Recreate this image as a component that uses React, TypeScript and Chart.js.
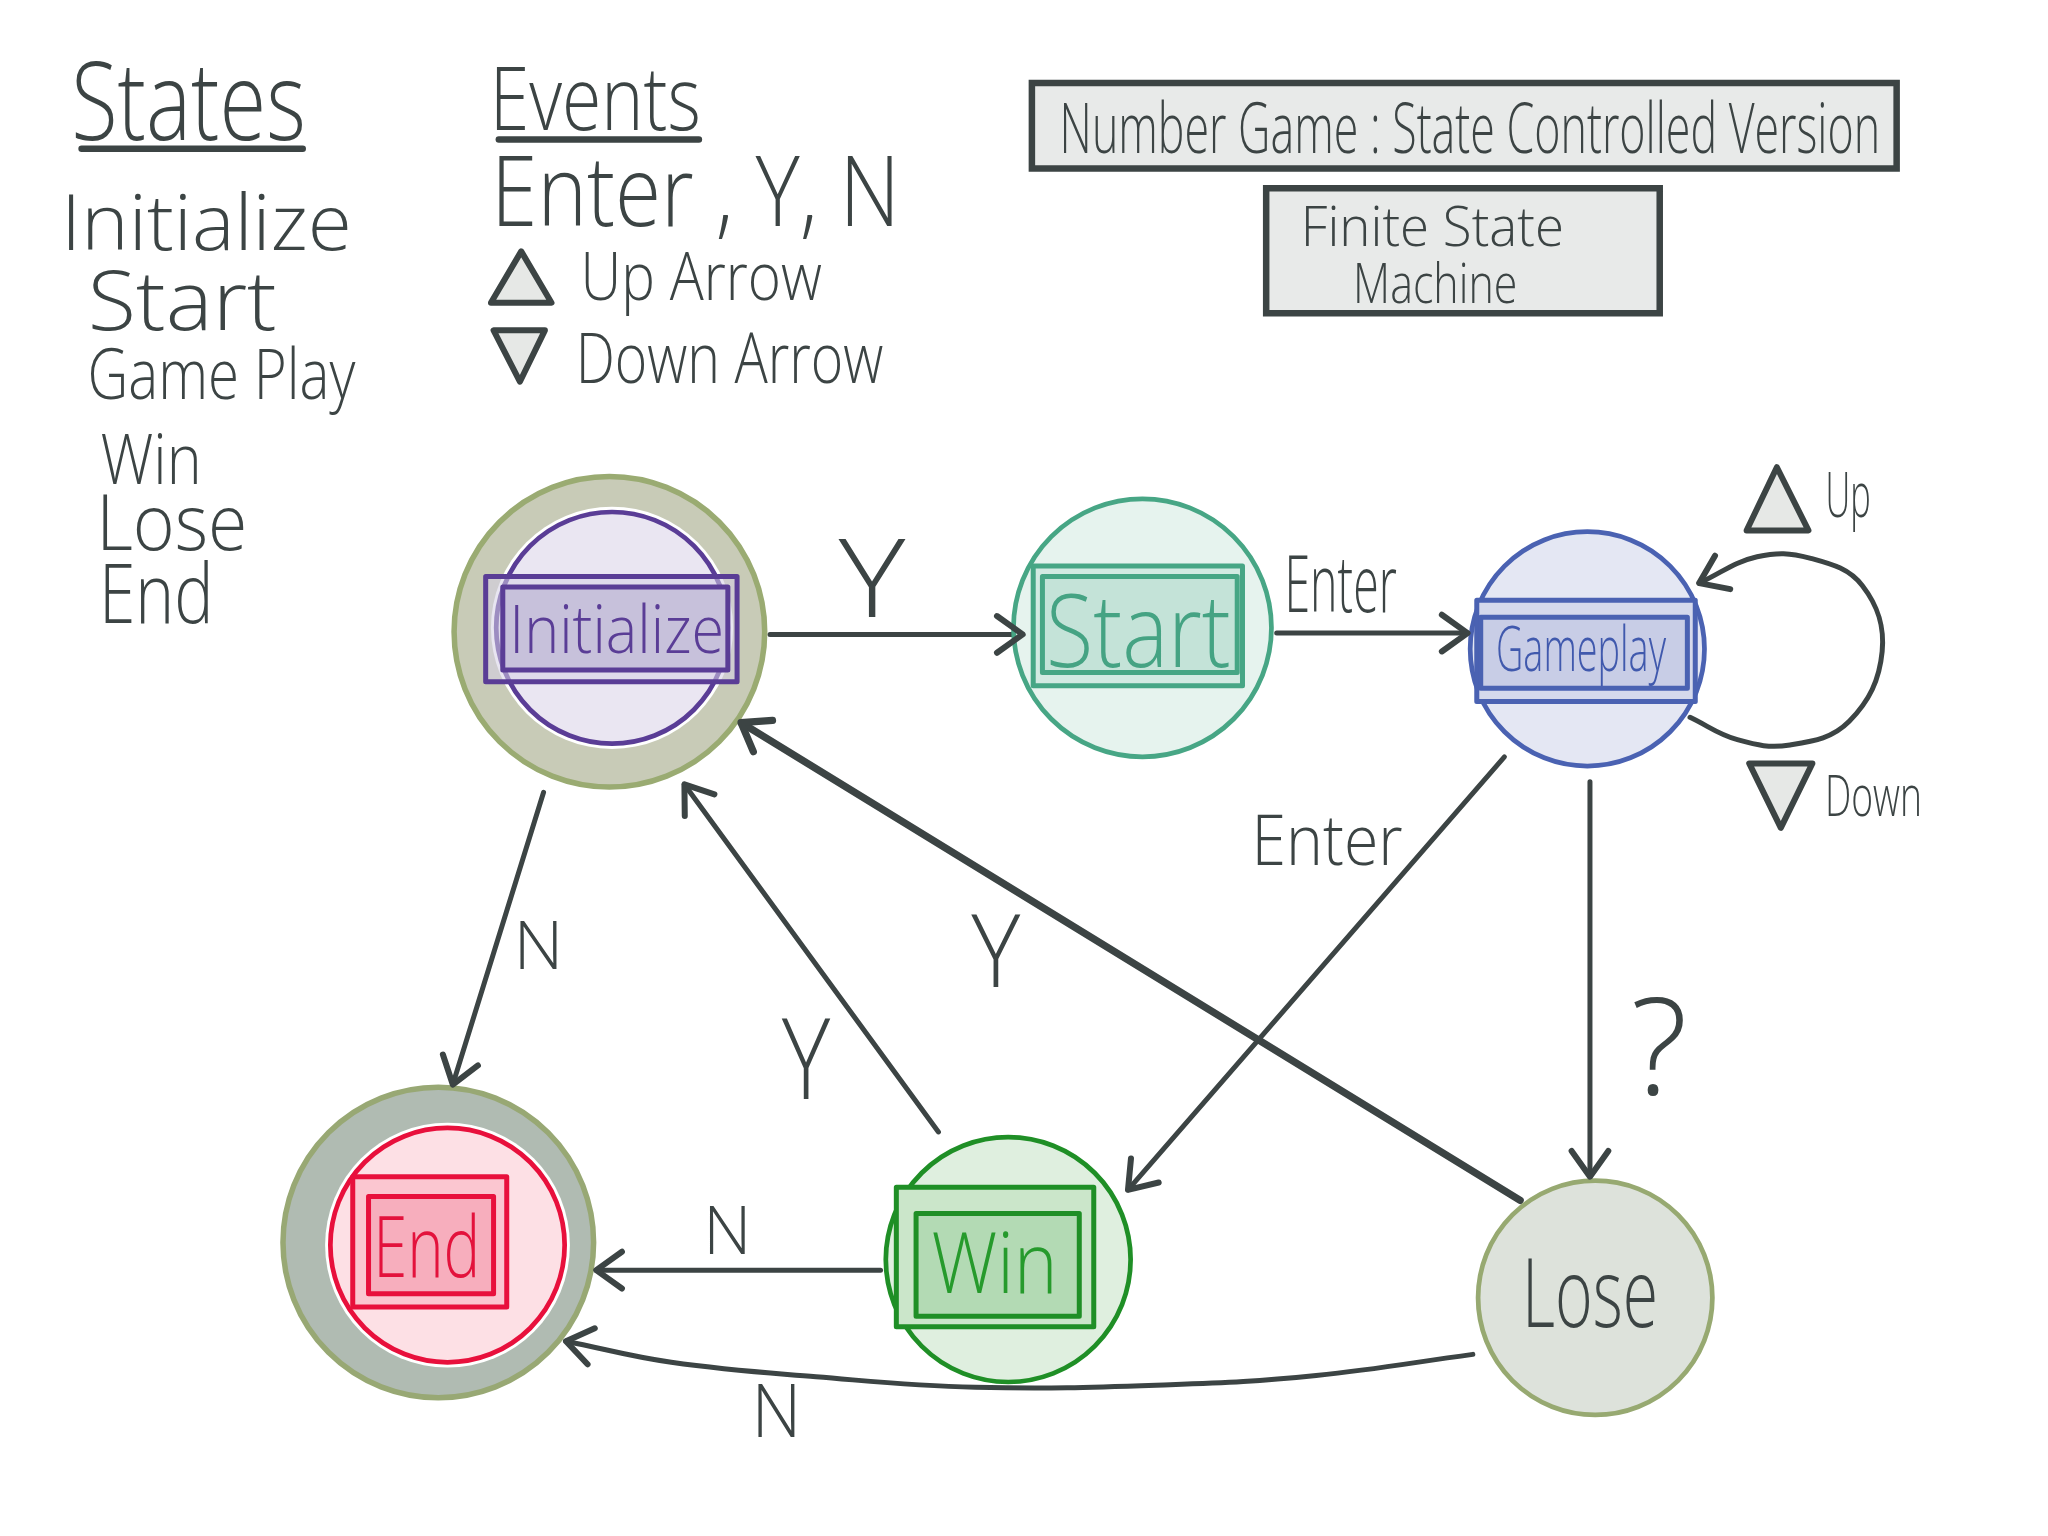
import React, { useEffect, useRef } from 'react';
import Chart from 'chart.js/auto';

// ---- diagram coordinate space (units) ----
const SPACE_W = 1556;
const SPACE_H = 1167;

// ---- states (nodes) ----
const stateNames = ['Initialize', 'Start', 'Gameplay', 'Win', 'Lose', 'End'];
const stateX = [465, 868, 1206, 766, 1212, 340];
const stateY = [477, 477, 493, 957, 986, 946];
const stateR = [88, 98, 89, 93, 89, 89];

// double-ring states (initial / final)
const ringStates = ['Initialize', 'End'];
const ringX = [463, 333];
const ringY = [480, 944];
const ringR = [118, 118];

// ---- transitions ----
const edgeNames = ['Init→Start', 'Start→Gameplay', 'Gameplay→Win', 'Gameplay→Lose', 'Lose→Init', 'Win→Init', 'Init→End', 'Win→End', 'Lose→End', 'Gameplay→Gameplay'];
const edgePaths: number[][][] = [
  [[585, 482], [777, 482]],
  [[970, 481], [1115, 481]],
  [[1143, 575], [857, 904]],
  [[1208, 594], [1208, 894]],
  [[1155, 912], [563, 549]],
  [[713, 860], [520, 596]],
  [[413, 602], [344, 824]],
  [[669, 965], [453, 965]],
  [[1119, 1029], [1000, 1045], [889, 1052], [741, 1054], [620, 1046], [510, 1035], [430, 1019]],
  [[1284, 545], [1320, 562], [1360, 566], [1405, 548], [1430, 495], [1415, 445], [1375, 424], [1335, 423], [1291, 443]],
];
const edgeLabels = ['Y', 'Enter', 'Enter', '?', 'Y', 'Y', 'N', 'N', 'N', ''];

// ---- legend lists ----
const legendStates = ['Initialize', 'Start', 'Game Play', 'Win', 'Lose', 'End'];
const legendEvents = ['Enter , Y, N', 'Up Arrow', 'Down Arrow'];
const titleText = 'Number Game : State Controlled Version';
const subtitleLines = ['Finite State', 'Machine'];

// ---- styles / layout (not data) ----
const INK = '#3c4444';
const FONT = '"Open Sans", "Lato", "Noto Sans", sans-serif';
const FONT_WEIGHT = 300;
const TRI_FILL = '#e6e8e6';

const stateStyle: Record<string, any> = {
  Initialize: { fill: '#eae6f2', stroke: '#5a3d96', text: '#5a3d96', rectFill: '#c7c1db', rectOuterFill: 'rgba(214,207,230,0.55)' },
  Start: { fill: '#e6f3ee', stroke: '#47a685', text: '#45a383', rectFill: '#c4e3d8', rectOuterFill: '#d3eae2' },
  Gameplay: { fill: '#e4e7f3', stroke: '#4a62b2', text: '#4059ad', rectFill: '#c8cde6', rectOuterFill: '#d5d9ec' },
  Win: { fill: '#dfefdf', stroke: '#1f8f26', text: '#269a2c', rectFill: '#b3dab4', rectOuterFill: '#cbe6ca' },
  Lose: { fill: '#dde2db', stroke: '#97a971', text: INK },
  End: { fill: '#fde0e5', stroke: '#e8103c', text: '#e3123c', rectFill: '#f7aebd', rectOuterFill: '#fbc6d0' },
};
const ringStyle: Record<string, any> = {
  Initialize: { fill: '#c8cbb7', stroke: '#9aab72' },
  End: { fill: '#b0bbb2', stroke: '#98a874' },
};

// rectangles drawn inside state circles: [x1, y1, x2, y2]
const stateRects: Record<string, { outer: number[]; inner: number[] }> = {
  Initialize: { outer: [369, 438, 560, 518], inner: [382, 446, 553, 509] },
  Start: { outer: [785, 430, 944, 521], inner: [792, 438, 940, 511] },
  Gameplay: { outer: [1122, 456, 1288, 533], inner: [1125, 469, 1282, 523] },
  Win: { outer: [681, 902, 831, 1008], inner: [696, 922, 820, 1000] },
  End: { outer: [268, 894, 385, 993], inner: [280, 909, 375, 983] },
};

// text boxes: left, right, baseline, cap height
const stateTextBox: Record<string, number[]> = {
  Initialize: [391, 548, 496, 36],
  Start: [798, 934, 507, 55],
  Gameplay: [1138, 1266, 510, 34],
  Win: [709, 799, 982, 46],
  Lose: [1161, 1257, 1008, 52],
  End: [288, 361, 970, 46],
};
const edgeLabelBox = [
  [637, 688, 469, 60],
  [979, 1061, 465, 43],
  [955, 1065, 657, 38],
  [1241, 1279, 832, 74],
  [738, 776, 750, 55],
  [594, 631, 835, 62],
  [395, 423, 736, 36],
  [539, 566, 953, 36],
  [576, 604, 1092, 40],
  [0, 0, 0, 0],
];
const legendStateBox = [
  [52, 264, 190, 42],
  [70, 209, 251, 45],
  [69, 270, 303, 38],
  [77, 150, 368, 38],
  [78, 185, 418, 42],
  [80, 158, 473, 45],
];
const legendEventBox = [
  [379, 678, 172, 53],
  [445, 624, 228, 36],
  [441, 671, 291, 38],
];
const headingStates = { text: 'States', box: [57, 230, 106, 60], underline: [62, 113, 230] };
const headingEvents = { text: 'Events', box: [377, 530, 99, 48], underline: [379, 106, 531] };
const titleBox = { rect: [784, 63, 1441, 128], text: [808, 1426, 116, 38] };
const subtitleBox = { rect: [962, 143, 1261, 238], lines: [[992, 1186, 187, 30], [1031, 1151, 230, 30]] };
const triangles = [
  { pts: [[373, 230], [396, 191], [419, 230]] },
  { pts: [[375, 251], [414, 251], [395, 290]] },
  { pts: [[1327, 403], [1350, 355], [1374, 403]], label: 'Up', box: [1389, 1420, 393, 34] },
  { pts: [[1329, 580], [1377, 580], [1353, 629]], label: 'Down', box: [1389, 1458, 620, 31] },
];

function unitPx(chart: any, v: number) {
  const sx = chart.scales?.x;
  if (!sx) return 0;
  const r = Math.abs(sx.getPixelForValue(v) - sx.getPixelForValue(0));
  return isFinite(r) ? r : 0;
}

function P(chart: any, x: number, y: number) {
  return [chart.scales.x.getPixelForValue(x), chart.scales.y.getPixelForValue(y)];
}

function drawText(ctx: CanvasRenderingContext2D, chart: any, text: string, box: number[], color: string) {
  const [x1, x2, base, cap] = box;
  const [px1, pb] = P(chart, x1, base);
  const [px2] = P(chart, x2, base);
  const capPx = unitPx(chart, cap);
  const fs = capPx / 0.72;
  ctx.save();
  ctx.font = `${FONT_WEIGHT} ${fs}px ${FONT}`;
  ctx.fillStyle = color;
  ctx.textBaseline = 'alphabetic';
  ctx.textAlign = 'left';
  const m = ctx.measureText(text);
  const w = (m.actualBoundingBoxRight ?? m.width) + (m.actualBoundingBoxLeft ?? 0);
  const sxf = w > 0 ? (px2 - px1) / w : 1;
  ctx.translate(px1, pb);
  ctx.scale(sxf, 1);
  ctx.fillText(text, m.actualBoundingBoxLeft ?? 0, 0);
  ctx.restore();
}

function rectPath(ctx: CanvasRenderingContext2D, chart: any, r: number[]) {
  const [a, b] = P(chart, r[0], r[1]);
  const [c, d] = P(chart, r[2], r[3]);
  ctx.beginPath();
  ctx.rect(a, b, c - a, d - b);
}

const diagramPlugin = {
  id: 'diagram',
  afterDatasetsDraw(chart: any) {
    const ctx: CanvasRenderingContext2D = chart.ctx;
    const lw = unitPx(chart, 3.8);
    ctx.save();
    ctx.lineJoin = 'round';
    ctx.lineCap = 'round';

    // arrowheads on transitions
    edgePaths.forEach((_, i) => {
      const meta = chart.getDatasetMeta(i);
      const pts = meta.data;
      if (!pts || pts.length < 2) return;
      const end = pts[pts.length - 1];
      let fx = pts[pts.length - 2].x, fy = pts[pts.length - 2].y;
      if (end.cp1x !== undefined && isFinite(end.cp1x) && (Math.abs(end.cp1x - end.x) + Math.abs(end.cp1y - end.y)) > 1) {
        fx = end.cp1x; fy = end.cp1y;
      }
      const ang = Math.atan2(end.y - fy, end.x - fx);
      const len = unitPx(chart, 24);
      const spread = 0.62;
      ctx.strokeStyle = INK;
      ctx.lineWidth = i === 4 ? unitPx(chart, 5.5) : lw * 1.2;
      ctx.beginPath();
      ctx.moveTo(end.x - len * Math.cos(ang - spread), end.y - len * Math.sin(ang - spread));
      ctx.lineTo(end.x, end.y);
      ctx.lineTo(end.x - len * Math.cos(ang + spread), end.y - len * Math.sin(ang + spread));
      ctx.stroke();
    });

    // rectangles inside states
    stateNames.forEach((name) => {
      const r = stateRects[name];
      if (!r) return;
      const st = stateStyle[name];
      ctx.lineWidth = lw;
      ctx.strokeStyle = st.stroke;
      rectPath(ctx, chart, r.outer);
      ctx.fillStyle = st.rectOuterFill;
      ctx.fill();
      ctx.stroke();
      rectPath(ctx, chart, r.inner);
      ctx.fillStyle = st.rectFill;
      ctx.fill();
      ctx.stroke();
    });

    // state texts
    stateNames.forEach((name) => drawText(ctx, chart, name, stateTextBox[name], stateStyle[name].text));

    // transition labels
    edgeLabels.forEach((lab, i) => { if (lab) drawText(ctx, chart, lab, edgeLabelBox[i], INK); });

    // triangles (legend + loop)
    triangles.forEach((t) => {
      ctx.beginPath();
      t.pts.forEach(([x, y], k) => {
        const [px, py] = P(chart, x, y);
        if (k === 0) ctx.moveTo(px, py); else ctx.lineTo(px, py);
      });
      ctx.closePath();
      ctx.fillStyle = TRI_FILL;
      ctx.fill();
      ctx.strokeStyle = INK;
      ctx.lineWidth = lw * 1.2;
      ctx.stroke();
      if (t.label) drawText(ctx, chart, t.label, t.box!, INK);
    });

    // headings with underline
    [headingStates, headingEvents].forEach((h) => {
      drawText(ctx, chart, h.text, h.box, INK);
      const [x1, y, x2] = h.underline;
      const [a, b] = P(chart, x1, y);
      const [c] = P(chart, x2, y);
      ctx.strokeStyle = INK;
      ctx.lineWidth = lw * 1.3;
      ctx.beginPath();
      ctx.moveTo(a, b);
      ctx.lineTo(c, b);
      ctx.stroke();
    });
    legendStates.forEach((s, i) => drawText(ctx, chart, s, legendStateBox[i], INK));
    legendEvents.forEach((s, i) => drawText(ctx, chart, s, legendEventBox[i], INK));

    // title boxes
    [titleBox.rect, subtitleBox.rect].forEach((r) => {
      rectPath(ctx, chart, r);
      ctx.fillStyle = '#e8eae9';
      ctx.fill();
      ctx.strokeStyle = INK;
      ctx.lineWidth = lw * 1.3;
      ctx.lineJoin = 'miter';
      ctx.stroke();
      ctx.lineJoin = 'round';
    });
    drawText(ctx, chart, titleText, titleBox.text, INK);
    subtitleLines.forEach((s, i) => drawText(ctx, chart, s, subtitleBox.lines[i], INK));

    ctx.restore();
  },
};

export default function App() {
  const ref = useRef<HTMLCanvasElement | null>(null);

  useEffect(() => {
    if (!ref.current) return;
    const edgeDatasets = edgePaths.map((path, i) => ({
      label: edgeNames[i],
      type: 'scatter' as const,
      data: path.map(([x, y]) => ({ x, y })),
      showLine: true,
      borderColor: INK,
      borderWidth: (c: any) => unitPx(c.chart, i === 4 ? 5.5 : 3.8),
      borderCapStyle: 'round',
      borderJoinStyle: 'round',
      tension: path.length > 2 ? 0.4 : 0,
      pointRadius: 0,
      fill: false,
      order: 5,
    }));

    const ringDataset = {
      label: 'rings',
      type: 'scatter' as const,
      data: ringStates.map((_, i) => ({ x: ringX[i], y: ringY[i] })),
      pointRadius: (c: any) => unitPx(c.chart, ringR[c.dataIndex]),
      pointBackgroundColor: ringStates.map((s) => ringStyle[s].fill),
      pointBorderColor: ringStates.map((s) => ringStyle[s].stroke),
      pointBorderWidth: (c: any) => unitPx(c.chart, 4.2),
      order: 4,
    };

    const haloDataset = {
      label: 'halo',
      type: 'scatter' as const,
      data: ringStates.map((s) => {
        const k = stateNames.indexOf(s);
        return { x: stateX[k], y: stateY[k] };
      }),
      pointRadius: (c: any) => unitPx(c.chart, stateR[stateNames.indexOf(ringStates[c.dataIndex])] + 4),
      pointBackgroundColor: '#ffffff',
      pointBorderWidth: 0,
      order: 3,
    };

    const stateDataset = {
      label: 'states',
      type: 'scatter' as const,
      data: stateNames.map((_, i) => ({ x: stateX[i], y: stateY[i] })),
      pointRadius: (c: any) => unitPx(c.chart, stateR[c.dataIndex]),
      pointBackgroundColor: stateNames.map((s) => stateStyle[s].fill),
      pointBorderColor: stateNames.map((s) => stateStyle[s].stroke),
      pointBorderWidth: (c: any) => unitPx(c.chart, 3.6),
      order: 2,
    };

    const chart = new Chart(ref.current, {
      type: 'scatter',
      data: { datasets: [...edgeDatasets, ringDataset, haloDataset, stateDataset] as any },
      options: {
        animation: false,
        responsive: true,
        maintainAspectRatio: false,
        events: [],
        layout: { padding: 0 },
        scales: {
          x: { type: 'linear', min: 0, max: SPACE_W, display: false },
          y: { type: 'linear', min: 0, max: SPACE_H, reverse: true, display: false },
        },
        plugins: {
          legend: { display: false },
          tooltip: { enabled: false },
        },
      },
      plugins: [diagramPlugin],
    });
    return () => chart.destroy();
  }, []);

  return (
    <div style={{ position: 'fixed', left: 0, top: 0, width: 2048, height: 1536, background: '#ffffff' }}>
      <canvas ref={ref} />
    </div>
  );
}
